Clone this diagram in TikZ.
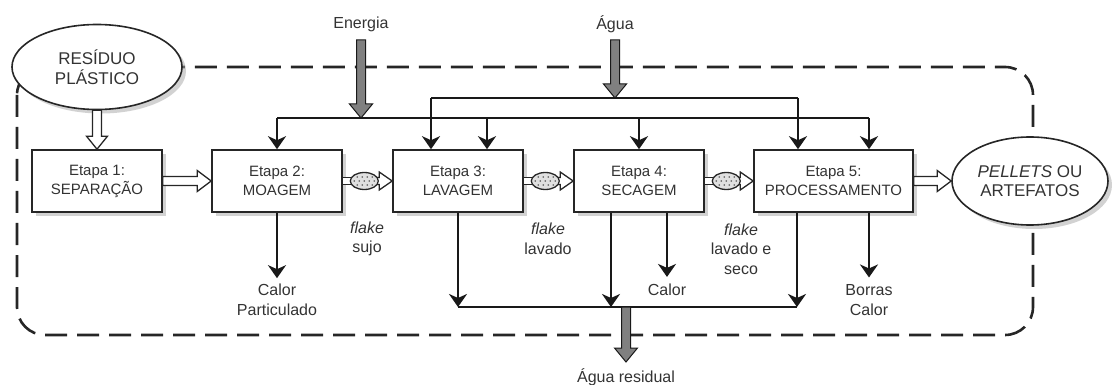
\documentclass[tikz,border=0pt]{standalone}
\usepackage{fontspec}
\setmainfont{Liberation Sans}
\usetikzlibrary{arrows.meta,shapes.geometric,shadows,calc}

\newcommand\grayarrow[2]{%
 \path[grayarr] let \p1=(#1), \p2=(#2) in
  (\x1-4.5pt,\y1) -- (\x1+4.5pt,\y1) -- (\x1+4.5pt,\y2+14pt) -- (\x1+11.5pt,\y2+14pt)
  -- (\x1,\y2) -- (\x1-11.5pt,\y2+14pt) -- (\x1-4.5pt,\y2+14pt) -- cycle;}
\newcommand\hollowh[2]{%
 \path[hollow] let \p1=(#1), \p2=(#2) in
  (\x1,\y1+4.5pt) -- (\x2-14pt,\y1+4.5pt) -- (\x2-14pt,\y1+10.5pt) -- (\x2,\y1)
  -- (\x2-14pt,\y1-10.5pt) -- (\x2-14pt,\y1-4.5pt) -- (\x1,\y1-4.5pt) -- cycle;}
\newcommand\flakeconn[2]{%
 \path[hollow] let \p1=(#1) in (\x1,\y1-3.5pt) rectangle (\x1+9pt,\y1+3.5pt);
 \path[hollow] let \p1=(#1), \p2=(#2) in
  (\x2-17pt,\y1+3.5pt) -- (\x2-13pt,\y1+3.5pt) -- (\x2-13pt,\y1+9pt) -- (\x2,\y1)
  -- (\x2-13pt,\y1-9pt) -- (\x2-13pt,\y1-3.5pt) -- (\x2-17pt,\y1-3.5pt) -- cycle;
 \path[hollow, fill=black!12] ($(#1)+(21.5,0)$) ellipse [x radius=14pt, y radius=8.5pt];
 \foreach \dx/\dy in {-7/4,-2/4,3/4,8/4,-10/0,-5/0,0/0,5/0,10/0,-7/-4,-2/-4,3/-4,8/-4}
   \fill[black!65] ($(#1)+(21.5+\dx,\dy)$) circle (0.9pt);}

\begin{document}
\begin{tikzpicture}[x=1pt,y=-1pt,
 stage/.style={draw=black!85, line width=1.6pt, fill=white, minimum width=130pt,
   minimum height=62pt, align=center, font=\fontsize{15}{19}\selectfont,
   text=black!80, inner sep=0pt,
   drop shadow={shadow xshift=4pt, shadow yshift=-4pt, fill=black!35}},
 oval/.style={ellipse, draw=black!85, line width=1.6pt, fill=white, align=center,
   font=\fontsize{17}{19.5}\selectfont, text=black!80, inner sep=0pt,
   drop shadow={shadow xshift=4pt, shadow yshift=-4pt, fill=black!35}},
 lab/.style={align=center, font=\fontsize{16}{19.5}\selectfont, text=black!80, inner sep=0pt},
 arr/.style={draw=black!90, line width=2.2pt, -{Stealth[length=13pt,width=18pt,inset=4pt]}},
 ln/.style={draw=black!90, line width=2.2pt},
 grayarr/.style={fill=black!50, draw=black!90, line width=1pt},
 hollow/.style={fill=white, draw=black!85, line width=1.3pt},
 frame/.style={draw=black!85, line width=2.6pt, dash pattern=on 22pt off 10pt, rounded corners=28pt}
]
\useasboundingbox (0,0) rectangle (1112,385);

% dashed system boundary
\draw[frame] (17,67) rectangle (1033,335);

% stages
\node[stage] (b1) at (97,181) {Etapa 1:\\SEPARAÇÃO};
\node[stage] (b2) at (277,181) {Etapa 2:\\MOAGEM};
\node[stage] (b3) at (458,181) {Etapa 3:\\LAVAGEM};
\node[stage] (b4) at (639,181) {Etapa 4:\\SECAGEM};
\node[stage, minimum width=159pt] (b5) at (833.5,181) {Etapa 5:\\PROCESSAMENTO};

% input / output ellipses
\node[oval, minimum width=170pt, minimum height=85pt] (res) at (97,67) {RESÍDUO\\PLÁSTICO};
\node[oval, minimum width=156pt, minimum height=88pt] (out) at (1030,181) {\textit{PELLETS} OU\\ARTEFATOS};

% labels
\node[lab] (en) at (361,24) {Energia};
\node[lab] (ag) at (615,24) {Água};
\node[lab] (cp) at (277,300) {Calor\\Particulado};
\node[lab] (fs) at (367,239) {\textit{flake}\\sujo};
\node[lab] (fl) at (548,239) {\textit{flake}\\lavado};
\node[lab] (fls) at (741,249) {\textit{flake}\\lavado e\\seco};
\node[lab] (c4) at (667,290) {Calor};
\node[lab] (bc) at (869,300) {Borras\\Calor};
\node[lab] (ar) at (626,377) {Água residual};

% junction coordinates
\coordinate (eTop) at (361,40);
\coordinate (eJ) at (361,118);
\coordinate (e2) at (277,118);
\coordinate (e3) at (487,118);
\coordinate (e4) at (639,118);
\coordinate (e5) at (869,118);
\coordinate (aTop) at (615,40);
\coordinate (aJ) at (615,98);
\coordinate (a3) at (431,98);
\coordinate (a5) at (798,98);
\coordinate (w3) at (458,307);
\coordinate (w4) at (611,307);
\coordinate (w5) at (797,307);
\coordinate (wJ) at (626,307);
\coordinate (wTip) at (626,362);

% distribution lines
\draw[ln] (e2) -- (e5);
\draw[ln] (a3) -- (a5);
\draw[arr] (e2) -- (e2 |- b2.north);
\draw[arr] (e3) -- (e3 |- b3.north);
\draw[arr] (e4) -- (e4 |- b4.north);
\draw[arr] (e5) -- (e5 |- b5.north);
\draw[arr] (a3) -- (a3 |- b3.north);
\draw[arr] (a5) -- (a5 |- b5.north);

% outputs
\draw[arr, shorten >=6pt] (b2.south) -- (cp.north);
\draw[arr] (b3.south) -- (w3);
\draw[arr] (w4 |- b4.south) -- (w4);
\draw[arr, shorten >=7pt] (c4 |- b4.south) -- (c4.north);
\draw[arr] (w5 |- b5.south) -- (w5);
\draw[arr, shorten >=7pt] (bc |- b5.south) -- (bc.north);
\draw[ln] (w3) -- (w5);

% gray arrows
\grayarrow{eTop}{eJ}
\grayarrow{aTop}{aJ}
\grayarrow{wJ}{wTip}

% hollow arrows
\path[hollow] let \p1=(res.south), \p2=(b1.north) in
  (\x1-4.5pt,\y1) -- (\x1+4.5pt,\y1) -- (\x1+4.5pt,\y2+13pt) -- (\x1+10.5pt,\y2+13pt)
  -- (\x1,\y2) -- (\x1-10.5pt,\y2+13pt) -- (\x1-4.5pt,\y2+13pt) -- cycle;
\hollowh{b1.east}{b2.west}
\hollowh{b5.east}{out.west}

% flake connectors
\flakeconn{b2.east}{b3.west}
\flakeconn{b3.east}{b4.west}
\flakeconn{b4.east}{b5.west}
\end{tikzpicture}
\end{document}
